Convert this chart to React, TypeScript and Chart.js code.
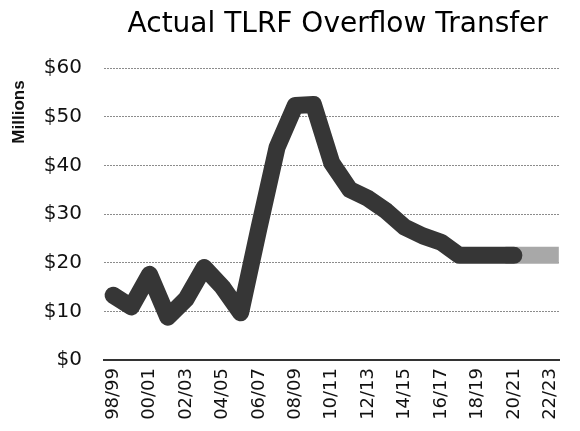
import { useEffect, useRef } from "react";
import { Chart, registerables } from "chart.js";

Chart.register(...registerables);

const chartTitle = "Actual TLRF Overflow Transfer";
const axisTitle = "Millions";

const fiscalYears = [
  "98/99", "99/00", "00/01", "01/02", "02/03", "03/04", "04/05", "05/06",
  "06/07", "07/08", "08/09", "09/10", "10/11", "11/12", "12/13", "13/14",
  "14/15", "15/16", "16/17", "17/18", "18/19", "19/20", "20/21", "21/22", "22/23",
];

const actualTransfer = [
  13.3, 10.9, 17.6, 8.8, 12.5, 19, 15, 9.7,
  27, 43.7, 52.3, 52.5, 40.5, 35, 33.2, 30.6,
  27.3, 25.5, 24.2, 21.5, 21.5, 21.5, 21.5, null, null,
];

const projectedTransfer = [
  null, null, null, null, null, null, null, null,
  null, null, null, null, null, null, null, null,
  null, null, null, null, null, null, 21.5, 21.5, 21.5,
];

const yMin = 0;
const yMax = 60;
const yStep = 10;

const FONT = '"DejaVu Sans", "Open Sans", sans-serif';

const textLabels = {
  id: "textLabels",
  afterDraw(chart: any) {
    const ctx = chart.ctx;
    const area = chart.chartArea;
    ctx.save();
    ctx.font = `28px ${FONT}`;
    ctx.textAlign = "center";
    ctx.textBaseline = "middle";
    ctx.fillStyle = "#000";
    ctx.fillText(chartTitle, (area.left + area.right) / 2 + 6, 25);
    ctx.restore();

    ctx.save();
    ctx.translate(19, 112);
    ctx.rotate(-Math.PI / 2);
    ctx.font = 'bold 17px "Liberation Sans", Arial, sans-serif';
    ctx.textAlign = "center";
    ctx.textBaseline = "middle";
    ctx.fillStyle = "#111";
    ctx.fillText(axisTitle, 0, 0);
    ctx.restore();
  },
};

export default function App() {
  const ref = useRef<HTMLCanvasElement>(null);

  useEffect(() => {
    document.body.style.margin = "0";
    const canvas = ref.current;
    if (!canvas) return;
    const chart = new Chart(canvas, {
      type: "line",
      data: {
        labels: fiscalYears,
        datasets: [
          {
            label: "Actual",
            data: actualTransfer,
            borderColor: "#363636",
            backgroundColor: "#363636",
            borderWidth: 17,
            borderCapStyle: "round",
            borderJoinStyle: "round",
            pointRadius: 0,
            tension: 0,
            order: 0,
            clip: false as any,
          },
          {
            label: "Projected",
            data: projectedTransfer,
            borderColor: "#a8a8a8",
            backgroundColor: "#a8a8a8",
            borderWidth: 17,
            borderCapStyle: "square",
            borderJoinStyle: "round",
            pointRadius: 0,
            tension: 0,
            order: 1,
            clip: false as any,
          },
        ],
      },
      options: {
        responsive: false,
        animation: false,
        devicePixelRatio: 1,
        layout: { padding: { left: 0, right: 4, top: 68, bottom: 0 } },
        plugins: {
          legend: { display: false },
          tooltip: { enabled: false },
          title: { display: false },
        },
        scales: {
          x: {
            type: "category",
            offset: true,
            grid: { display: false, drawTicks: false },
            border: { display: true, color: "#333", width: 2 },
            ticks: {
              autoSkip: false,
              maxRotation: 90,
              minRotation: 90,
              padding: 8,
              color: "#111",
              font: { family: FONT, size: 18 },
              callback: (_v: any, i: number) => (i % 2 === 0 ? fiscalYears[i] : ""),
            },
            afterFit: (scale: any) => {
              scale.height = 71;
            },
          },
          y: {
            min: yMin,
            max: yMax,
            grid: { color: "#8c8c8c", lineWidth: 1, drawTicks: false },
            border: { display: false, dash: [2, 1] },
            ticks: {
              stepSize: yStep,
              padding: 22,
              color: "#111",
              font: { family: FONT, size: 20 },
              callback: (v: any) => "$" + v,
            },
            afterFit: (scale: any) => {
              scale.width = 104;
            },
          },
        },
      },
      plugins: [textLabels],
    });
    return () => chart.destroy();
  }, []);

  return (
    <div style={{ width: 580, height: 431 }}>
      <canvas ref={ref} width={580} height={431} />
    </div>
  );
}
